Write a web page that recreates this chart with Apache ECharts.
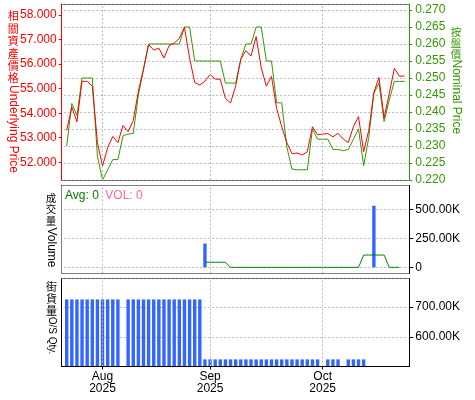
<!DOCTYPE html>
<html><head><meta charset="utf-8">
<script src="https://cdn.jsdelivr.net/npm/echarts@6.0.0/dist/echarts.min.js"></script>
<style>html,body{margin:0;padding:0;background:#fff}#c{width:475px;height:400px}</style>
</head><body><div id="c"></div><script>
const dates = [
 '2025-07-23','2025-07-24','2025-07-25','2025-07-28','2025-07-29','2025-07-30','2025-07-31',
 '2025-08-01','2025-08-04','2025-08-05','2025-08-06','2025-08-07','2025-08-08','2025-08-11','2025-08-12','2025-08-13','2025-08-14','2025-08-15','2025-08-18','2025-08-19','2025-08-20','2025-08-21','2025-08-22','2025-08-25','2025-08-26','2025-08-27','2025-08-28','2025-08-29',
 '2025-09-01','2025-09-02','2025-09-03','2025-09-04','2025-09-05','2025-09-08','2025-09-09','2025-09-10','2025-09-11','2025-09-12','2025-09-15','2025-09-16','2025-09-17','2025-09-18','2025-09-19','2025-09-22','2025-09-23','2025-09-24','2025-09-25','2025-09-26','2025-09-29','2025-09-30',
 '2025-10-02','2025-10-03','2025-10-06','2025-10-08','2025-10-09','2025-10-10','2025-10-13','2025-10-14','2025-10-15','2025-10-16','2025-10-17','2025-10-20','2025-10-21','2025-10-22','2025-10-23','2025-10-24','2025-10-27'
];
const underlyingPrice = [53.3,54.25,53.65,55.3,55.3,55.1,52.8,51.85,52.6,53.05,52.8,53.5,53.25,53.7,54.9,55.8,56.8,56.57,56.65,56.25,56.75,56.85,57.05,57.5,56.25,55.25,55.15,55.3,55.58,55.39,55.38,54.6,54.42,55.1,56.2,56.55,56.33,57.12,55.85,55.1,55.5,54.2,53.45,52.8,52.35,52.38,52.3,52.43,53.45,53.12,53.15,53.17,53.04,53.18,52.95,52.8,53.45,53.86,52.43,53.3,54.85,55.45,53.8,54.8,55.83,55.5,55.52];
const nominalPrice = [0.230,0.2425,0.239,0.250,0.250,0.250,0.227,0.220,0.223,0.226,0.226,0.233,0.2335,0.2337,0.245,0.2525,0.260,0.260,0.260,0.260,0.260,0.260,0.260,0.265,0.265,0.255,0.255,0.255,0.255,0.255,0.255,0.2485,0.2485,0.2485,0.2555,0.260,0.260,0.265,0.265,0.255,0.255,0.2427,0.2427,0.2297,0.2232,0.223,0.223,0.223,0.235,0.232,0.232,0.232,0.229,0.229,0.2286,0.229,0.232,0.235,0.2242,0.2325,0.2455,0.2485,0.2372,0.2435,0.249,0.249,0.249];
const volume = [null,null,null,null,null,null,null,null,null,null,null,null,null,null,null,null,null,null,null,null,null,null,null,null,null,null,null,
 205000,0,0,0,0,0,0,0,0,0,0,0,0,0,0,0,0,0,0,0,0,0,0,0,0,0,0,0,0,0,0,0,0,531000,0,0,0,0,0,0,0];
const volumeAvg = [null,null,null,null,null,null,null,null,null,null,null,null,null,null,null,null,null,null,null,null,null,null,null,null,null,null,null,
 44000,44000,44000,44000,44000,0,0,0,0,0,0,0,0,0,0,0,0,0,0,0,0,0,0,0,0,0,0,0,0,0,0,106000,106000,106000,106000,106000,0,0,0];
const osQty = [726000,726000,726000,726000,726000,726000,726000,726000,726000,726000,726000,null,
 726000,726000,726000,726000,726000,726000,726000,726000,726000,726000,726000,726000,726000,726000,726000,
 524000,524000,524000,524000,524000,524000,524000,524000,524000,524000,524000,524000,524000,524000,524000,524000,524000,524000,524000,524000,524000,524000,524000,
 null,524000,524000,524000,null,524000,524000,524000,524000,
 null,null,null,null,null,null,null,null];
const priceTicks = [52,53,54,55,56,57,58];
const volumeTicks = [0,250000,500000];
const legendVolText = 'VOL: 0';
const legendAvgText = 'Avg: 0';

const monthNames = ['Jan','Feb','Mar','Apr','May','Jun','Jul','Aug','Sep','Oct','Nov','Dec'];
const isMonthStart = dates.map((d,i)=> i>0 && d.slice(5,7)!==dates[i-1].slice(5,7));
const monthStarts = dates.filter((d,i)=>isMonthStart[i]);
const FONT = '"Liberation Sans", Arial, sans-serif';
const CJK = '"Noto Sans CJK TC", "Liberation Sans", sans-serif';
const GRID_GRAY = '#bbbbbb';
const BLUE = '#3366ff';
const GREEN = '#339900';
const RED = '#ff0000';

const L = 64.14, R = 475-407.16;
const kFmt = v => v===0 ? '0' : (v/1000).toFixed(2)+'K';
const vMark = () => ({silent:true, symbol:['none','none'], label:{show:false}, animation:false,
  emphasis:{disabled:true}, lineStyle:{color:GRID_GRAY, type:[2,2], width:1},
  data: monthStarts.map(d=>({xAxis:d}))});
function xCat(gi, showLabels){
  return {type:'category', gridIndex:gi, data:dates, boundaryGap:true,
    axisLine:{show:false},
    axisTick:{show:showLabels, alignWithLabel:true, interval:(i)=>isMonthStart[i], length:3, lineStyle:{color:'#000'}},
    axisLabel:{show:showLabels, interval:(i)=>isMonthStart[i], color:'#000', fontSize:12, fontFamily:FONT, lineHeight:12, margin:4,
      formatter:(v)=> monthNames[parseInt(v.slice(5,7),10)-1]+'\n'+v.slice(0,4)},
    splitLine:{show:false}};
}
const dotted = (x1,y1,x2,y2) => ({type:'line', silent:true, shape:{x1,y1,x2,y2}, style:{stroke:'#000', lineWidth:1, lineDash:[1,1]}, z:10});
const solid = (x1,y1,x2,y2) => ({type:'line', silent:true, shape:{x1,y1,x2,y2}, style:{stroke:'#000', lineWidth:1}, z:10});
const txt = (x,y,text,fill,font,align,valign,lh,rot) => ({type:'text', x, y, rotation:rot||0, silent:true,
  style:{text, fill, font, textAlign:align, align, textVerticalAlign:valign, verticalAlign:valign, lineHeight:lh}});

const chart = echarts.init(document.getElementById('c'));
chart.setOption({
  animation:false,
  textStyle:{fontFamily:FONT},
  grid:[
    {left:L, right:R, top:4, height:176},
    {left:L, right:R, top:185.5, height:88},
    {left:L, right:R, top:278.5, height:88}
  ],
  xAxis:[xCat(0,false), xCat(1,false), xCat(2,true)],
  yAxis:[
    {type:'value', gridIndex:0, position:'left', min:51.279, max:58.448, offset:2.44,
      axisLine:{show:true, lineStyle:{color:RED}},
      axisTick:{show:true, customValues:priceTicks, length:3, lineStyle:{color:RED}},
      axisLabel:{customValues:priceTicks, color:RED, fontSize:12, margin:5, formatter:v=>v.toFixed(3)},
      splitLine:{show:false}},
    {type:'value', gridIndex:0, position:'right', min:0.22, max:0.27176, interval:0.005, offset:2.14,
      axisLine:{show:true, lineStyle:{color:GREEN}},
      axisTick:{show:true, length:3, lineStyle:{color:GREEN}},
      axisLabel:{color:GREEN, fontSize:12, margin:6, showMaxLabel:false, formatter:v=>v.toFixed(3)},
      splitLine:{show:true, lineStyle:{color:GRID_GRAY, type:[2,2]}}},
    {type:'value', gridIndex:1, position:'right', min:-53000, max:705000, offset:2.14,
      axisLine:{show:true, lineStyle:{color:'#000'}},
      axisTick:{show:true, customValues:volumeTicks, length:4, lineStyle:{color:'#000'}},
      axisLabel:{customValues:volumeTicks, color:'#000', fontSize:12, margin:6, formatter:kFmt},
      splitLine:{show:true, lineStyle:{color:GRID_GRAY, type:[2,2]}}},
    {type:'value', gridIndex:2, position:'right', min:500000, max:796500, interval:100000, offset:2.14,
      axisLine:{show:true, lineStyle:{color:'#000'}},
      axisTick:{show:true, length:4, lineStyle:{color:'#000'}},
      axisLabel:{color:'#000', fontSize:12, margin:6, showMinLabel:false, showMaxLabel:false, formatter:kFmt},
      splitLine:{show:true, lineStyle:{color:GRID_GRAY, type:[2,2]}}}
  ],
  series:[
    {name:'按盤價', type:'line', xAxisIndex:0, yAxisIndex:1, data:nominalPrice, showSymbol:false, z:2,
      lineStyle:{color:GREEN, width:1}, itemStyle:{color:GREEN}, markLine:vMark()},
    {name:'相關資產價格', type:'line', xAxisIndex:0, yAxisIndex:0, data:underlyingPrice, showSymbol:false, z:3,
      lineStyle:{color:RED, width:1}, itemStyle:{color:RED}},
    {name:'VOL', type:'bar', xAxisIndex:1, yAxisIndex:2, data:volume, barWidth:3.4, itemStyle:{color:BLUE}, markLine:vMark()},
    {name:'Avg', type:'line', xAxisIndex:1, yAxisIndex:2, data:volumeAvg, showSymbol:false, z:3,
      lineStyle:{color:'#008000', width:1}, itemStyle:{color:'#008000'}},
    {name:'O/S Qty', type:'bar', xAxisIndex:2, yAxisIndex:3, data:osQty, barWidth:3.4, itemStyle:{color:BLUE}, markLine:vMark()}
  ],
  graphic:[
    dotted(61.5,4.5,409.5,4.5), dotted(61.5,180.5,409.5,180.5),
    dotted(61.5,185.5,409.5,185.5), dotted(61.5,273.5,409.5,273.5), dotted(61.5,185.5,61.5,273.5),
    dotted(61.5,278.5,409.5,278.5), solid(61.5,278.5,61.5,367), solid(61.5,366.5,409.5,366.5),
    txt(13.3,10,'相\n關\n資\n產\n價\n格',RED,'11px '+CJK,'center','top',12.4),
    txt(13.3,85,'Underlying Price',RED,'12px '+FONT,'left','middle',12,-Math.PI/2),
    txt(456,26.5,'按\n盤\n價',GREEN,'10.5px '+CJK,'center','top',11),
    txt(456,59.5,'Nominal Price',GREEN,'12px '+FONT,'left','middle',12,-Math.PI/2),
    txt(51,192,'成\n交\n量','#000','10.5px '+CJK,'center','top',11.5),
    txt(51,227.5,'Volume','#000','12px '+FONT,'left','middle',12,-Math.PI/2),
    txt(51.5,280.5,'街\n貨\n量','#000','11px '+CJK,'center','top',12),
    txt(51.5,316.7,'O/S Qty.','#000','10px '+FONT,'left','middle',12,-Math.PI/2),
    txt(65,196,legendAvgText,'#008000','12px '+FONT,'left','middle',12),
    txt(105.3,196,legendVolText,'#ff6699','12px '+FONT,'left','middle',12)
  ]
});
</script></body></html>
